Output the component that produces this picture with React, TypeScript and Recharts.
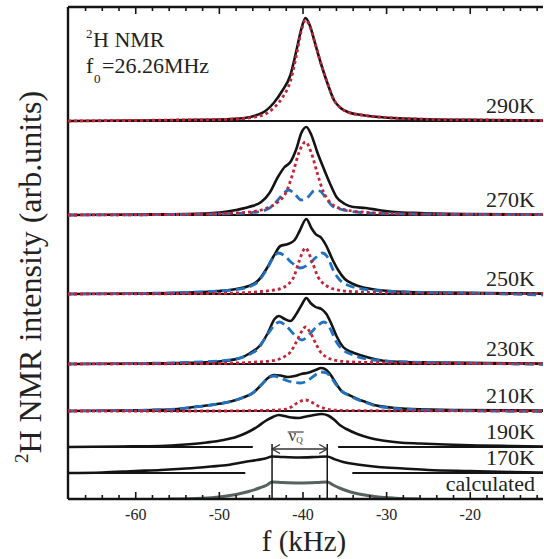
import React from "react";
import { ComposedChart, Line, XAxis, YAxis, ReferenceLine } from "recharts";

type Pt = [number, number];

// frequency window (kHz) and tick positions
const F_MIN = -68.1;
const F_MAX = -11.3;
const TICKS = [
  -66, -64, -62, -60, -58, -56, -54, -52, -50, -48, -46, -44, -42, -40, -38,
  -36, -34, -32, -30, -28, -26, -24, -22, -20, -18, -16, -14, -12,
];
const Y_TOP = 492;

// vertical offsets of the stacked spectra (arb. units)
const OFF_290 = 378;
const OFF_270 = 284;
const OFF_250 = 205;
const OFF_230 = 135;
const OFF_210 = 88;
const OFF_190 = 52;
const OFF_170 = 26;
const OFF_CALC = 0;

// measured spectra [f kHz, intensity]
const M290: Pt[] = [
  [-68.1, 0], [-60, 0.5], [-54, 1], [-50, 1.5], [-47, 3], [-45.5, 6], [-44.5, 10],
  [-43.5, 18], [-42.5, 30], [-41.5, 46], [-40.8, 70], [-40.2, 92], [-39.7, 103],
  [-39.2, 96], [-38.5, 76], [-37.8, 56], [-37, 36], [-36.3, 21], [-35.5, 13],
  [-34.5, 8.5], [-33, 6], [-31, 4], [-28, 2.5], [-24, 1.5], [-18, 1], [-11.3, 0.5],
];
const M270: Pt[] = [
  [-68.1, 0], [-60, 0.5], [-54, 1], [-50, 2.5], [-48, 5], [-46.5, 8], [-45, 13],
  [-44, 22], [-43, 38], [-42.2, 48], [-41.5, 53], [-40.8, 66], [-40.2, 82],
  [-39.6, 88], [-39, 80], [-38.3, 63], [-37.5, 46], [-36.8, 32], [-36, 18],
  [-35, 11], [-34, 8], [-32.5, 7], [-31, 5], [-29, 3], [-26, 2], [-20, 1], [-11.3, 0.5],
];
const M250: Pt[] = [
  [-68.1, 0], [-60, 0.5], [-54, 1.5], [-50, 3], [-48, 5], [-46.5, 8], [-45.3, 14],
  [-44.3, 26], [-43.5, 38], [-42.7, 48], [-41.8, 50], [-41, 54], [-40.4, 63],
  [-39.6, 75], [-39, 66], [-38.5, 60], [-37.8, 56], [-37.2, 48], [-36.5, 35],
  [-35.8, 24], [-35, 15], [-34, 10], [-33, 7], [-31, 4], [-29, 2.5], [-25, 1.5],
  [-18, 1], [-11.3, 0.5],
];
const M230: Pt[] = [
  [-68.1, 0], [-60, 0.5], [-55, 1], [-51, 2], [-49, 3.5], [-47.5, 6], [-46.3, 11],
  [-45.2, 18], [-44.2, 31], [-43.4, 45], [-42.9, 48], [-42.2, 45], [-41.5, 43],
  [-40.8, 50], [-40.1, 60], [-39.6, 66], [-39.1, 61], [-38.5, 57], [-37.8, 55],
  [-37.2, 50], [-36.6, 40], [-36, 28], [-35.2, 17], [-34.2, 12], [-33, 8.5],
  [-31.5, 5], [-29.5, 2.5], [-25, 1.5], [-18, 1], [-11.3, 0.5],
];
const M210: Pt[] = [
  [-68.1, 0], [-62, 0.5], [-58, 1], [-55, 2], [-53, 4], [-51, 6], [-49.5, 8],
  [-48, 11], [-47, 14], [-46, 18], [-45, 26], [-44.2, 33], [-43.5, 36],
  [-42.7, 35.5], [-41.8, 34], [-41, 35], [-40.2, 37], [-39.3, 38.5], [-38.5, 41],
  [-37.8, 43], [-37.2, 41], [-36.6, 35], [-36, 27], [-35.4, 20], [-34.5, 16],
  [-33.5, 12], [-32.5, 9], [-31.5, 6], [-29.5, 3.5], [-27, 2], [-22, 1], [-11.3, 0.5],
];
const M190: Pt[] = [
  [-68.1, 0], [-62, 0.5], [-57, 1], [-54, 2.5], [-51.5, 4.5], [-49.5, 7], [-48, 10],
  [-46.8, 14], [-45.5, 20], [-44.5, 26], [-43.6, 30], [-42.9, 32], [-42.2, 31],
  [-41.4, 29.5], [-40.5, 29], [-39.6, 30.5], [-38.7, 32], [-37.8, 33], [-37, 31.5],
  [-36.3, 27.5], [-35.6, 22], [-34.8, 18], [-33.5, 13], [-32, 9], [-30.5, 6.5],
  [-28.5, 4.5], [-26, 3.5], [-23, 2.5], [-19, 1.5], [-15, 1], [-11.3, 0.5],
];
const M170: Pt[] = [
  [-68.1, 0], [-64, 0.5], [-60, 2], [-57, 3], [-54, 4.5], [-51, 6.5], [-49, 8],
  [-47, 11], [-45.5, 13], [-44.5, 14.5], [-43.7, 16.5], [-42.5, 16], [-40.5, 15.5],
  [-38.5, 16], [-37.1, 16.5], [-36.3, 14], [-35.2, 11], [-33.5, 8.5], [-31, 6],
  [-28, 4.5], [-25, 3], [-20, 2], [-15, 1], [-11.3, 0.5],
];
const CALC: Pt[] = [
  [-56, 0], [-52, 0.8], [-50, 2], [-48, 4.5], [-46.5, 7.5], [-45.2, 11], [-44.3, 14],
  [-43.7, 17], [-42.5, 16.5], [-40.4, 16], [-38.3, 16.5], [-37.1, 17], [-36.4, 14],
  [-35.5, 10.5], [-34.5, 7.5], [-33, 4.5], [-31, 2], [-29, 0.8], [-26, 0],
];

// central (isotropic) component, red dotted
const C290: Pt[] = [
  [-68.1, 0], [-55, 1], [-50, 1.5], [-47, 2.5], [-45.5, 4.5], [-44.5, 7], [-43.5, 13],
  [-42.5, 23], [-41.5, 40], [-40.8, 65], [-40.2, 90], [-39.7, 101], [-39.2, 95],
  [-38.5, 76], [-37.8, 56], [-37, 36], [-36.3, 21], [-35.5, 13], [-34.5, 8.5],
  [-33, 6], [-31, 4], [-28, 2.5], [-24, 1.5], [-18, 1], [-11.3, 0.5],
];
const C270: Pt[] = [
  [-68.1, 0], [-55, 0.5], [-48, 2], [-45, 5], [-44, 8], [-43, 13], [-42, 23],
  [-41.2, 42], [-40.5, 62], [-39.7, 73], [-39, 62], [-38.3, 42], [-37.6, 24],
  [-36.8, 13], [-36, 8], [-34.5, 4.5], [-33, 3], [-30, 1.5], [-24, 0.8], [-11.3, 0.3],
];
const C250: Pt[] = [
  [-68.1, 0], [-55, 0.3], [-48, 1], [-45, 2.5], [-43.5, 4], [-42.5, 6], [-41.8, 9.5],
  [-41.1, 17], [-40.5, 32], [-39.7, 46], [-38.9, 32], [-38.2, 17], [-37.5, 10],
  [-36.8, 6.5], [-35.5, 3.5], [-33, 2], [-28, 1], [-11.3, 0.3],
];
const C230: Pt[] = [
  [-68.1, 0], [-55, 0.3], [-48, 1], [-45.5, 2], [-44, 3], [-43, 4.5], [-42.3, 7],
  [-41.5, 12], [-40.8, 22], [-40.2, 32], [-39.7, 37], [-39.1, 31], [-38.5, 21],
  [-37.9, 12], [-37.2, 7], [-36.3, 4], [-35, 2.5], [-32, 1.5], [-26, 0.8], [-11.3, 0.3],
];
const C210: Pt[] = [
  [-68.1, 0], [-50, 0], [-45, 0.5], [-43, 1], [-42, 2], [-41.3, 4.5], [-40.6, 8.5],
  [-39.7, 11], [-38.9, 8.5], [-38.2, 5], [-37.4, 2.5], [-36.5, 1], [-34, 0.3], [-11.3, 0],
];

// quadrupolar doublet component, blue dashed
const D270: Pt[] = [
  [-68.1, 0], [-55, 0.5], [-48, 1.5], [-45.5, 3], [-44, 7], [-43, 15], [-42.3, 22],
  [-41.7, 25], [-41, 21], [-40.2, 15], [-39.4, 18], [-38.6, 24.5], [-38, 24],
  [-37.2, 16], [-36.5, 9], [-35.6, 6], [-34.5, 4], [-33, 2.5], [-30, 1.5], [-24, 0.8],
  [-11.3, 0.3],
];
const D250: Pt[] = [
  [-68.1, 0], [-60, 0.5], [-54, 1.5], [-50, 3], [-48, 4.5], [-46.5, 7], [-45.3, 13],
  [-44.3, 25], [-43.5, 37], [-42.9, 41], [-42.2, 38], [-41.3, 31], [-40.3, 26],
  [-39.3, 30], [-38.4, 37], [-37.7, 41], [-37, 36], [-36.4, 24], [-35.6, 14],
  [-34.7, 9], [-33.5, 6], [-32, 4], [-29, 2.5], [-25, 1.5], [-18, 0.5], [-11.3, -1],
];
const D230: Pt[] = [
  [-68.1, 0], [-60, 0.5], [-54, 1.5], [-50, 3], [-48, 5], [-46.5, 9], [-45.3, 16],
  [-44.2, 30], [-43.3, 40], [-42.8, 42], [-42, 38], [-41, 29], [-40.1, 24],
  [-39.2, 30], [-38.3, 38], [-37.5, 42], [-36.8, 36], [-36, 22], [-35.2, 14],
  [-34, 9], [-33, 6], [-31.5, 4], [-29, 2.5], [-25, 1.5], [-18, 0.5], [-11.3, -0.5],
];
const D210: Pt[] = [
  [-68.1, 0], [-62, 0.5], [-58, 1], [-55, 2], [-53, 4], [-51, 6], [-49.5, 8],
  [-48, 11], [-47, 14], [-46, 18], [-45, 26], [-44.2, 32.5], [-43.5, 35],
  [-42.7, 33], [-41.8, 30], [-41, 28.5], [-40.3, 28], [-39.5, 30], [-38.7, 35],
  [-37.9, 39], [-37.2, 38], [-36.6, 33], [-36, 26], [-35.4, 20], [-34.5, 15.5],
  [-33.5, 11.5], [-32.5, 8.5], [-31.5, 5.5], [-29.5, 3], [-27, 1.5], [-22, 0.5],
  [-11.3, -0.5],
];

// gaps in the 190K / 170K baselines, and the mean quadrupole splitting marker
const GAP_190 = [-46.0, -35.8];
const GAP_170 = [-46.9, -34.1];
const NUQ_EDGES = [-43.7, -37.1];
const NUQ_TOP = 55;
const NUQ_ARROW = 50;

const FONT = "Liberation Serif, DejaVu Serif, serif";
const TXT = { fontFamily: FONT };

const STYLE = {
  meas: { stroke: "#141414", strokeWidth: 2.6 },
  center: { stroke: "#c3243a", strokeWidth: 2.8, strokeDasharray: "3 3" },
  doublet: { stroke: "#1f72bf", strokeWidth: 2.8, strokeDasharray: "9 5" },
  calc: { stroke: "#56625f", strokeWidth: 3 },
};

type Kind = keyof typeof STYLE;

const SERIES: { id: string; data: Pt[]; offset: number; kind: Kind }[] = [
  { id: "m290", data: M290, offset: OFF_290, kind: "meas" },
  { id: "c290", data: C290, offset: OFF_290, kind: "center" },
  { id: "m270", data: M270, offset: OFF_270, kind: "meas" },
  { id: "d270", data: D270, offset: OFF_270, kind: "doublet" },
  { id: "c270", data: C270, offset: OFF_270, kind: "center" },
  { id: "m250", data: M250, offset: OFF_250, kind: "meas" },
  { id: "d250", data: D250, offset: OFF_250, kind: "doublet" },
  { id: "c250", data: C250, offset: OFF_250, kind: "center" },
  { id: "m230", data: M230, offset: OFF_230, kind: "meas" },
  { id: "d230", data: D230, offset: OFF_230, kind: "doublet" },
  { id: "c230", data: C230, offset: OFF_230, kind: "center" },
  { id: "m210", data: M210, offset: OFF_210, kind: "meas" },
  { id: "d210", data: D210, offset: OFF_210, kind: "doublet" },
  { id: "c210", data: C210, offset: OFF_210, kind: "center" },
  { id: "m190", data: M190, offset: OFF_190, kind: "meas" },
  { id: "m170", data: M170, offset: OFF_170, kind: "meas" },
  { id: "calc", data: CALC, offset: OFF_CALC, kind: "calc" },
];

const PANELS = [
  { label: "290K", offset: OFF_290, full: true },
  { label: "270K", offset: OFF_270, full: true },
  { label: "250K", offset: OFF_250, full: true },
  { label: "230K", offset: OFF_230, full: true },
  { label: "210K", offset: OFF_210, full: true },
  { label: "190K", offset: OFF_190, full: false },
  { label: "170K", offset: OFF_170, full: false },
  { label: "calculated", offset: OFF_CALC, full: false },
];

const tempLabel = (text: string) => (props: any) => {
  const vb = props.viewBox || {};
  return (
    <text
      x={vb.x + vb.width - 8}
      y={vb.y - 8}
      textAnchor="end"
      style={TXT}
      fontSize={22}
      fill="#222"
    >
      {text}
    </text>
  );
};

function AxisTick(props: any) {
  const { x, y, payload, side } = props;
  const v = payload.value;
  const major = v % 10 === 0;
  const len = major ? 7 : 4;
  const dir = side === "top" ? 1 : -1;
  return (
    <g>
      <line x1={x} x2={x} y1={y} y2={y + dir * len} stroke="#141414" strokeWidth={1.6} />
      {side === "bottom" && major && (
        <text x={x} y={y + 21} textAnchor="middle" style={TXT} fontSize={16} fill="#222">
          {v}
        </text>
      )}
    </g>
  );
}

function NuqArrow(props: any) {
  const { x1, x2, y1 } = props;
  const a = 8;
  const b = 4.5;
  const cx = (x1 + x2) / 2;
  return (
    <g>
      <line x1={x1} x2={x2} y1={y1} y2={y1} stroke="#333" strokeWidth={1.3} />
      <polyline points={`${x1 + a},${y1 - b} ${x1},${y1} ${x1 + a},${y1 + b}`} fill="none" stroke="#333" strokeWidth={1.3} />
      <polyline points={`${x2 - a},${y1 - b} ${x2},${y1} ${x2 - a},${y1 + b}`} fill="none" stroke="#333" strokeWidth={1.3} />
      <line x1={cx - 12} x2={cx + 4} y1={y1 - 17} y2={y1 - 17} stroke="#333" strokeWidth={1.1} />
      <text x={cx - 4} y={y1 - 8} textAnchor="middle" style={TXT} fontSize={17} fill="#333">
        ν<tspan fontSize={9} dy={2}>Q</tspan>
      </text>
    </g>
  );
}

export default function App() {
  return (
    <div style={{ position: "absolute", left: 0, top: 0, width: 544, height: 559, background: "#fff" }}>
      <ComposedChart width={544} height={559} margin={{ top: 2, right: 1, bottom: 0, left: 68 }}>
        <XAxis
          dataKey="f"
          type="number"
          domain={[F_MIN, F_MAX]}
          ticks={TICKS}
          interval={0}
          allowDataOverflow
          height={60}
          tickSize={0}
          tickMargin={0}
          axisLine={{ stroke: "#141414", strokeWidth: 2.4 }}
          tickLine={false}
          tick={(p: any) => <AxisTick {...p} side="bottom" />}
        />
        <XAxis
          xAxisId="top"
          orientation="top"
          dataKey="f"
          type="number"
          domain={[F_MIN, F_MAX]}
          ticks={TICKS}
          interval={0}
          allowDataOverflow
          height={5}
          tickSize={0}
          tickMargin={0}
          axisLine={{ stroke: "#141414", strokeWidth: 2.4 }}
          tickLine={false}
          tick={(p: any) => <AxisTick {...p} side="top" />}
        />
        <YAxis hide type="number" domain={[0, Y_TOP]} allowDataOverflow />

        <ReferenceLine x={F_MIN} stroke="#141414" strokeWidth={2.4} />
        {PANELS.map((p) =>
          p.full ? (
            <ReferenceLine key={p.label} y={p.offset} stroke="#141414" strokeWidth={2} label={tempLabel(p.label)} />
          ) : (
            <ReferenceLine key={p.label} y={p.offset} stroke="none" label={tempLabel(p.label)} />
          ),
        )}
        <ReferenceLine segment={[{ x: F_MIN, y: OFF_190 }, { x: GAP_190[0], y: OFF_190 }]} stroke="#141414" strokeWidth={2} />
        <ReferenceLine segment={[{ x: GAP_190[1], y: OFF_190 }, { x: F_MAX, y: OFF_190 }]} stroke="#141414" strokeWidth={2} />
        <ReferenceLine segment={[{ x: F_MIN, y: OFF_170 }, { x: GAP_170[0], y: OFF_170 }]} stroke="#141414" strokeWidth={2} />
        <ReferenceLine segment={[{ x: GAP_170[1], y: OFF_170 }, { x: F_MAX, y: OFF_170 }]} stroke="#141414" strokeWidth={2} />

        {SERIES.map((s) => (
          <Line
            key={s.id}
            data={s.data.map(([f, v]) => ({ f, v: v + s.offset }))}
            dataKey="v"
            type="monotone"
            dot={false}
            activeDot={false}
            isAnimationActive={false}
            {...STYLE[s.kind]}
          />
        ))}

        {NUQ_EDGES.map((f) => (
          <ReferenceLine key={f} segment={[{ x: f, y: 0 }, { x: f, y: NUQ_TOP }]} stroke="#141414" strokeWidth={1.5} />
        ))}
        <ReferenceLine
          segment={[{ x: NUQ_EDGES[0], y: NUQ_ARROW }, { x: NUQ_EDGES[1], y: NUQ_ARROW }]}
          shape={(p: any) => <NuqArrow {...p} />}
        />
      </ComposedChart>

      <svg width={544} height={559} style={{ position: "absolute", left: 0, top: 0, pointerEvents: "none" }}>
        <g style={TXT} fill="#222">
          <text x={86} y={38} fontSize={13}>2</text>
          <text x={93} y={47} fontSize={22}>H NMR</text>
          <text x={86} y={73} fontSize={22}>f</text>
          <text x={94} y={83} fontSize={13}>0</text>
          <text x={102} y={73} fontSize={22}>=26.26MHz</text>
          <text x={304} y={551} fontSize={29} textAnchor="middle">f (kHz)</text>
          <text transform="translate(41,277) rotate(-90)" fontSize={32} textAnchor="middle">
            <tspan fontSize={19} dy={-13}>2</tspan>
            <tspan dy={13}>H NMR intensity (arb.units)</tspan>
          </text>
        </g>
      </svg>
    </div>
  );
}
